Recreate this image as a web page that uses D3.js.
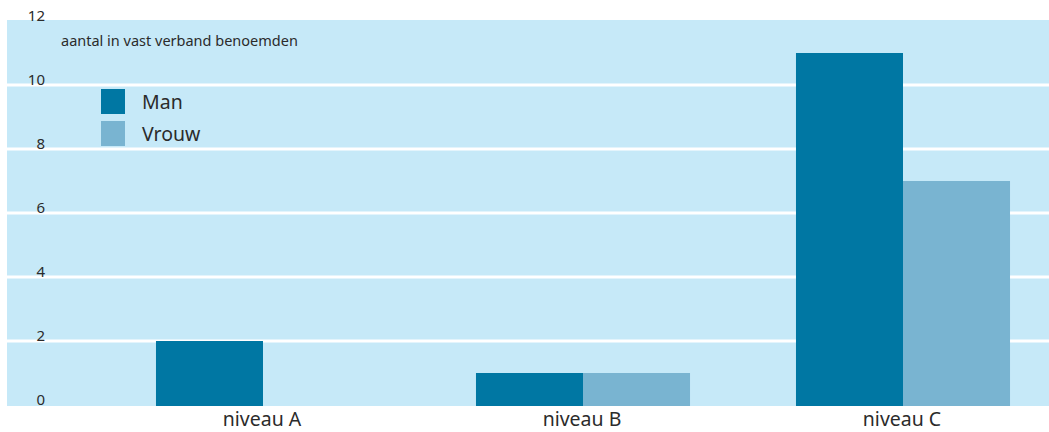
<!DOCTYPE html>
<html><head><meta charset="utf-8">
<script src="https://cdn.jsdelivr.net/npm/d3@7"></script>
<style>body{margin:0;background:#fff}svg{display:block}text{font-family:"Noto Sans",sans-serif;fill:#2b2b2b}</style>
</head><body>
<svg id="c" width="1049" height="432"></svg>
<script>
const categories = ["niveau A", "niveau B", "niveau C"];
const seriesNames = ["Man", "Vrouw"];
const manValues = [2, 1, 11];
const vrouwValues = [0, 1, 7];
const yTicks = [0, 2, 4, 6, 8, 10, 12];
const colors = {Man: "#0077a3", Vrouw: "#79b4d1"};
const subtitle = "aantal in vast verband benoemden";

const svg = d3.select("#c");
const plotLeft = 7, plotRight = 1049, plotTop = 20, plotBottom = 406;

const y = d3.scaleLinear().domain([0, 12]).range([405, 21]);
const x0 = d3.scaleBand().domain(categories).range([103, 1063]).paddingInner(0).paddingOuter(0);
const x1 = d3.scaleBand().domain(seriesNames).range([0, x0.bandwidth()]).paddingInner(0).paddingOuter(0.495);

svg.append("rect").attr("x", plotLeft).attr("y", plotTop)
  .attr("width", plotRight - plotLeft).attr("height", plotBottom - plotTop).attr("fill", "#c6e9f8");

// gridlines
svg.append("g").selectAll("line").data(yTicks.filter(d => d > 0 && d < 12)).join("line")
  .attr("x1", plotLeft).attr("x2", plotRight)
  .attr("y1", d => y(d)).attr("y2", d => y(d))
  .attr("stroke", "#fff").attr("stroke-width", 3);

// y tick labels
svg.append("g").selectAll("text").data(yTicks).join("text")
  .attr("x", 45).attr("y", d => y(d) - 0.5)
  .attr("text-anchor", "end").attr("font-size", 15).text(d => d);

const data = categories.map((c, i) => ({cat: c, Man: manValues[i], Vrouw: vrouwValues[i]}));
const g = svg.append("g");
data.forEach(d => {
  seriesNames.forEach(s => {
    if (d[s] > 0) {
      g.append("rect")
        .attr("x", x0(d.cat) + x1(s))
        .attr("y", y(d[s]))
        .attr("width", x1.bandwidth())
        .attr("height", y(0) - y(d[s]) + 1)
        .attr("fill", colors[s]);
    }
  });
});

// category labels
svg.append("g").selectAll("text").data(categories).join("text")
  .attr("x", d => x0(d) + x0.bandwidth() / 2 - 1).attr("y", 426)
  .attr("text-anchor", "middle").attr("font-size", 19.5).text(d => d);

svg.append("text").attr("x", 61).attr("y", 46).attr("font-size", 14.5).text(subtitle);

// legend
const leg = svg.append("g");
seriesNames.forEach((s, i) => {
  leg.append("rect").attr("x", 101).attr("y", 89 + i * 32).attr("width", 24).attr("height", 25).attr("fill", colors[s]);
  leg.append("text").attr("x", 142).attr("y", 109 + i * 32).attr("font-size", 19.5).text(s);
});
</script>
</body></html>
